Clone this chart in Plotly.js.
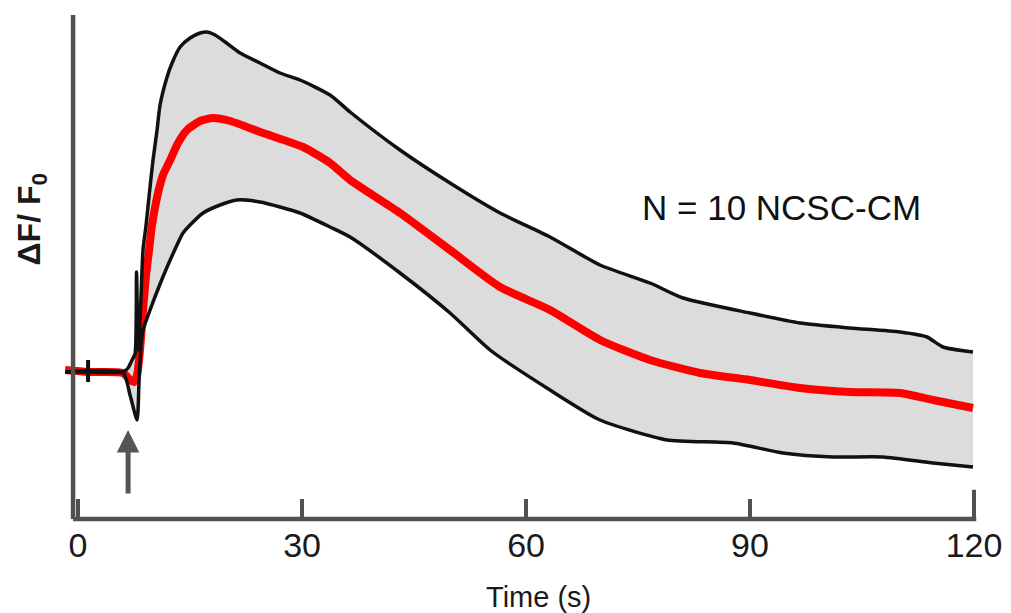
<!DOCTYPE html>
<html>
<head>
<meta charset="utf-8">
<script src="https://cdn.plot.ly/plotly-3.0.1.min.js"></script>
<style>html,body{margin:0;padding:0;background:#fff;}#chart{width:1011px;height:613px;}</style>
</head>
<body>
<div id="chart"></div>
<script>
// Time (s) and ΔF/F0 (arbitrary units, baseline 0)
const upperT = [-1.74, 1.34, 6.03, 6.70, 7.23, 7.63, 7.83, 8.04, 8.30, 8.70, 9.11, 9.64, 10.04, 10.58, 10.98, 11.92, 12.59, 13.66, 15.00, 16.34, 17.28, 18.35, 19.69, 21.70, 24.37, 27.05, 29.73, 33.75, 36.43, 43.12, 49.82, 56.52, 63.21, 69.91, 76.60, 81.02, 89.99, 96.69, 103.39, 110.08, 113.70, 115.84, 119.86];
const upperY = [0.00, 0.00, 0.00, 0.04, 0.12, 0.18, 1.00, 0.22, 0.52, 1.22, 1.47, 1.85, 2.12, 2.42, 2.67, 2.95, 3.09, 3.25, 3.34, 3.39, 3.40, 3.37, 3.30, 3.19, 3.09, 2.99, 2.92, 2.77, 2.60, 2.22, 1.89, 1.59, 1.35, 1.07, 0.89, 0.74, 0.59, 0.49, 0.44, 0.40, 0.35, 0.25, 0.20];

const meanT = [-1.74, 1.34, 6.03, 6.96, 7.50, 7.90, 8.30, 8.70, 9.11, 9.51, 9.91, 10.71, 11.38, 12.34, 13.39, 14.60, 16.34, 18.08, 20.36, 24.78, 30.13, 33.75, 36.43, 43.12, 49.82, 56.52, 63.21, 69.91, 76.60, 83.30, 89.99, 96.69, 103.39, 110.08, 114.50, 119.86];
const meanY = [0.02, 0.00, -0.01, -0.08, -0.10, -0.03, 0.22, 0.62, 0.97, 1.22, 1.47, 1.79, 1.97, 2.12, 2.29, 2.42, 2.51, 2.54, 2.51, 2.39, 2.25, 2.09, 1.92, 1.59, 1.22, 0.85, 0.62, 0.32, 0.12, -0.01, -0.08, -0.16, -0.20, -0.21, -0.28, -0.36];

const lowerT = [-1.74, 6.03, 6.96, 7.90, 8.17, 8.44, 8.70, 9.64, 10.98, 12.34, 14.06, 15.40, 16.74, 19.02, 21.29, 24.37, 27.05, 29.73, 33.75, 36.43, 43.12, 49.82, 55.18, 63.21, 69.91, 78.88, 87.72, 94.41, 101.11, 107.81, 114.50, 119.86];
const lowerY = [0.00, -0.01, -0.23, -0.48, -0.08, 0.27, 0.42, 0.62, 0.88, 1.12, 1.39, 1.50, 1.59, 1.67, 1.72, 1.70, 1.65, 1.59, 1.45, 1.35, 0.99, 0.59, 0.22, -0.18, -0.48, -0.68, -0.71, -0.81, -0.85, -0.85, -0.91, -0.95];

const markT = [1.34, 1.34];
const markY = [0.12, -0.10];

const stimT = 6.7;            // stimulus arrow time
const stimY = [-0.58, -1.23]; // arrow head, arrow tail

const xTicks = [0, 30, 60, 90, 120];
const xTickText = ['0', '30', '60', '90', '120'];

const axisColor = '#505050';
const font = 'Arial, "Liberation Sans", Helvetica, sans-serif';
const smooth = {shape: 'spline', smoothing: 0.6};

const traces = [
  // invisible upper boundary + lower boundary filled to it => grey SD band
  {x: upperT, y: upperY, type: 'scatter', mode: 'lines',
   line: Object.assign({width: 0, color: 'rgba(0,0,0,0)'}, smooth), hoverinfo: 'skip', showlegend: false},
  {x: lowerT, y: lowerY, type: 'scatter', mode: 'lines', fill: 'tonexty', fillcolor: '#dcdcdc',
   line: Object.assign({width: 0, color: 'rgba(0,0,0,0)'}, smooth), hoverinfo: 'skip', showlegend: false},
  {x: meanT, y: meanY, type: 'scatter', mode: 'lines',
   line: Object.assign({color: '#ff0000', width: 8}, smooth), showlegend: false},
  {x: upperT, y: upperY, type: 'scatter', mode: 'lines',
   line: Object.assign({color: '#111111', width: 3.5}, smooth), showlegend: false},
  {x: lowerT, y: lowerY, type: 'scatter', mode: 'lines',
   line: Object.assign({color: '#111111', width: 3.5}, smooth), showlegend: false},
  {x: markT, y: markY, type: 'scatter', mode: 'lines', line: {color: '#111111', width: 4}, showlegend: false}
];

const layout = {
  width: 1011, height: 613,
  margin: {l: 65, r: 34, t: 15, b: 94},
  paper_bgcolor: '#ffffff', plot_bgcolor: '#ffffff',
  showlegend: false,
  xaxis: {
    range: [-1.75, 120.4], showgrid: false, zeroline: false, showline: false,
    tickmode: 'array', tickvals: xTicks, ticktext: xTickText,
    ticks: 'inside', ticklen: 20, tickwidth: 4, tickcolor: axisColor,
    ticklabelstandoff: 3,
    tickfont: {family: font, size: 34, color: '#1a1a1a'}
  },
  yaxis: {
    range: [-1.47, 3.57], showgrid: false, zeroline: false, showline: false,
    showticklabels: false, ticks: ''
  },
  shapes: [
    {type: 'line', xref: 'x', yref: 'paper', x0: -0.67, x1: 120.3, y0: 0, y1: 0, line: {color: axisColor, width: 4.5}},
    {type: 'line', xref: 'x', yref: 'paper', x0: -0.67, x1: -0.67, y0: 0, y1: 1, line: {color: axisColor, width: 4.5}},
    {type: 'line', xref: 'x', yref: 'paper', x0: 120, x1: 120, y0: 0, y1: 0.058, line: {color: axisColor, width: 4}}
  ],
  annotations: [
    {text: 'Time (s)', xref: 'paper', yref: 'paper', x: 0.519, y: 0, yanchor: 'middle', yshift: -78,
     showarrow: false, font: {family: font, size: 29, color: '#1a1a1a'}},
    {text: '<b>ΔF/ F<sub>0</sub></b>', xref: 'paper', yref: 'paper', x: -0.037, y: 0.595, xanchor: 'center', yanchor: 'middle',
     textangle: -90, showarrow: false, font: {family: font, size: 32, color: '#1a1a1a'}},
    {text: 'N = 10 NCSC-CM', xref: 'x', yref: 'y', x: 94.2, y: 1.65, xanchor: 'center', yanchor: 'middle',
     showarrow: false, font: {family: font, size: 35, color: '#111111'}},
    {text: '', xref: 'x', yref: 'y', x: stimT, y: stimY[0], axref: 'x', ayref: 'y', ax: stimT, ay: stimY[1],
     showarrow: true, arrowhead: 2, arrowsize: 0.9, arrowwidth: 5, arrowcolor: '#555555'}
  ]
};

Plotly.newPlot('chart', traces, layout, {displayModeBar: false, staticPlot: true});
</script>
</body>
</html>
